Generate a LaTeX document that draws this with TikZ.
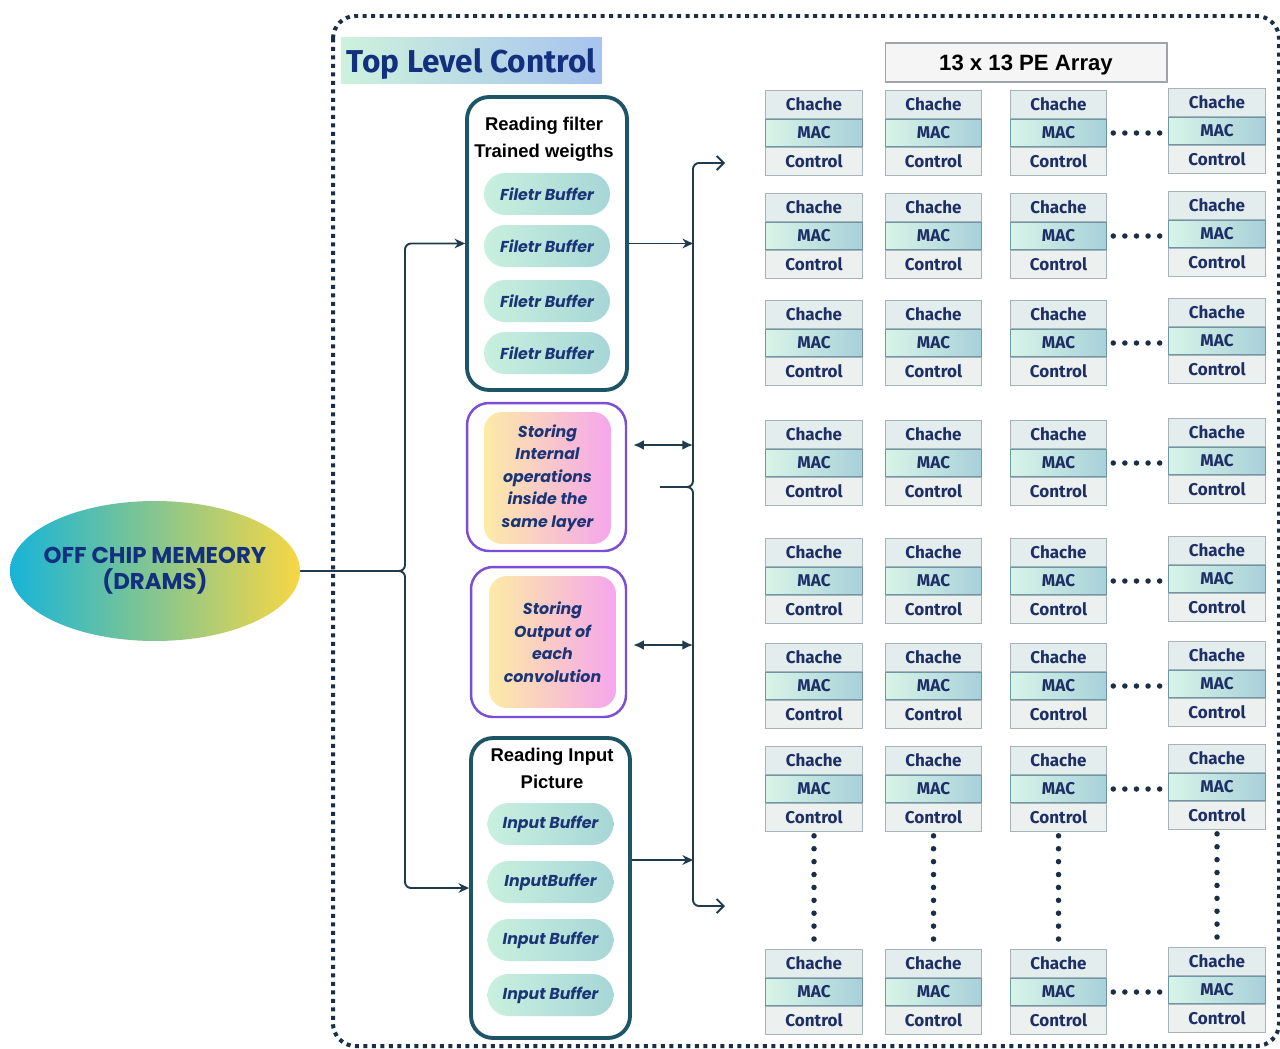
\documentclass[tikz,border=0pt]{standalone}
\usepackage{fontspec}
\setmainfont{Fira Sans}
\newfontfamily\popfont{Poppins}
\newfontfamily\arialfont{Liberation Sans}
\usetikzlibrary{calc}
\usetikzlibrary{positioning}
\usetikzlibrary{shapes.geometric}
\usetikzlibrary{arrows.meta}

\definecolor{linenavy}{HTML}{1F3B4D}
\definecolor{dotnavy}{HTML}{1A2E45}
\definecolor{groupteal}{HTML}{1D5566}
\definecolor{storepurple}{HTML}{7A4FD6}
\definecolor{titleblue}{HTML}{12307E}
\definecolor{bufblue}{HTML}{1B3577}
\definecolor{petext}{HTML}{1E2F66}
\definecolor{peline}{HTML}{A6B3B8}
\definecolor{macline}{HTML}{6E96A6}
\definecolor{cachefill}{HTML}{E3EDED}
\definecolor{ctrlfill}{HTML}{ECF0EF}
\definecolor{macleft}{HTML}{D8F4E7}
\definecolor{macright}{HTML}{A8D0DA}
\definecolor{pillleft}{HTML}{C9F0DF}
\definecolor{pillright}{HTML}{A6D6D6}
\definecolor{storeleft}{HTML}{FDEBA6}
\definecolor{storeright}{HTML}{F5A6EC}
\definecolor{memleft}{HTML}{17B4D8}
\definecolor{memmid}{HTML}{86CFA0}
\definecolor{memright}{HTML}{F7D745}
\definecolor{titleleft}{HTML}{CDF2DC}
\definecolor{titleright}{HTML}{A8C3EE}
\definecolor{arraygray}{HTML}{A0A4A8}

\tikzset{
  pebox/.style={draw=peline, line width=0.6pt, minimum width=1.93cm, minimum height=0.55cm,
    inner sep=0pt, text=petext, font=\fontsize{9.7}{11}\selectfont\bfseries},
  pecache/.style={pebox, fill=cachefill},
  pectrl/.style={pebox, fill=ctrlfill},
  pemac/.style={pebox, draw=macline, left color=macleft, right color=macright},
  pill/.style={rounded corners=0.42cm, minimum width=2.52cm, minimum height=0.84cm, inner sep=0pt,
    left color=pillleft, right color=pillright, text=bufblue,
    font=\popfont\fontsize{9}{11}\selectfont\bfseries\itshape},
  groupbox/.style={draw=groupteal, line width=2.2pt, rounded corners=0.44cm, fill=white},
  grouphead/.style={align=center, text=black, font=\arialfont\bfseries\fontsize{10.5}{15.3}\selectfont},
  storeout/.style={draw=storepurple, line width=1.4pt, rounded corners=0.44cm, fill=white},
  storein/.style={rounded corners=0.36cm, minimum width=2.54cm, minimum height=2.64cm, inner sep=0pt,
    left color=storeleft, right color=storeright, align=center, text=bufblue,
    font=\popfont\fontsize{9}{12.8}\selectfont\bfseries\itshape},
  memory/.style={ellipse, minimum width=5.8cm, minimum height=2.8cm, inner sep=0pt,
    left color=memleft, middle color=memmid, right color=memright},
  memtext/.style={align=center, text=titleblue, font=\popfont\bfseries\fontsize{13}{15}\selectfont},
  titlebox/.style={minimum width=5.22cm, minimum height=0.94cm, inner sep=0pt, text depth=0pt,
    left color=titleleft, right color=titleright, text=titleblue,
    font=\bfseries\fontsize{18}{20}\selectfont},
  arraybox/.style={draw=arraygray, line width=0.6pt, fill=black!4, minimum width=5.64cm,
    minimum height=0.78cm, inner sep=0pt, text depth=0pt,
    font=\arialfont\bfseries\fontsize{12.6}{15}\selectfont},
  outerframe/.style={draw=dotnavy, line width=0.08cm, dash pattern=on 0.08cm off 0.09cm,
    rounded corners=0.45cm},
  conn/.style={draw=linenavy, line width=1.1pt, rounded corners=0.12cm},
  arr/.style={-{Stealth[length=6pt,width=5.5pt]}},
  dblarr/.style={{Latex[length=6pt,width=5.5pt]}-{Latex[length=6pt,width=5.5pt]}},
  outarr/.style={-{Straight Barb[length=4pt,width=8pt]}},
  hdots/.style={draw=dotnavy, line width=0.11cm, line cap=round, dash pattern=on 0pt off 0.232cm,
    shorten <=0.12cm, shorten >=0.17cm},
  vdots/.style={draw=dotnavy, line width=0.11cm, line cap=round, dash pattern=on 0pt off 0.258cm,
    shorten <=0.08cm, shorten >=0.18cm}
}

\newcommand{\pecell}[3]{%
  \node[pemac] (#1m) at (#2,#3) {MAC};
  \node[pecache, above=0pt of #1m] (#1c) {Chache};
  \node[pectrl, below=0pt of #1m] (#1k) {Control};
}

\begin{document}
\begin{tikzpicture}[x=0.02cm, y=-0.02cm]
  \useasboundingbox (0,0) rectangle (1280,1048);
  \fill[white] (0,0) rectangle (1280,1048);

  % Top level frame and title
  \draw[outerframe] (333,16) rectangle (1279,1046);
  \node[titlebox] (title) at (471.5,60.5) {Top Level Control};

  % Off chip memory
  \node[memory] (mem) at (155,571) {};
  \node[memtext] (memlabel) at (mem.center) {OFF CHIP MEMEORY\\(DRAMS)};

  % Filter buffers
  \node[groupbox, minimum width=3.2cm, minimum height=5.86cm] (fgroup) at (547,243.5) {};
  \node[grouphead] (fhead) at (544,139.5) {Reading filter\\Trained weigths};
  \node[pill] (fbuf1) at (547,194) {Filetr Buffer};
  \node[pill] (fbuf2) at (547,246) {Filetr Buffer};
  \node[pill] (fbuf3) at (547,301) {Filetr Buffer};
  \node[pill] (fbuf4) at (547,353) {Filetr Buffer};

  % Storing blocks
  \node[storeout, minimum width=3.18cm, minimum height=2.96cm] (st1) at (546.5,477) {};
  \node[storein] (st1in) at (547.5,478) {Storing\\Internal\\operations\\inside the\\same layer};
  \node[storeout, minimum width=3.1cm, minimum height=3cm] (st2) at (548.5,642) {};
  \node[storein] (st2in) at (552.5,642) {Storing\\Output of\\each\\convolution};

  % Input buffers
  \node[groupbox, minimum width=3.18cm, minimum height=6cm] (igroup) at (550.5,888) {};
  \node[grouphead] (ihead) at (552,768) {Reading Input\\Picture};
  \node[pill] (ibuf1) at (550.5,824) {Input Buffer};
  \node[pill] (ibuf2) at (550.5,882) {InputBuffer};
  \node[pill] (ibuf3) at (550.5,940) {Input Buffer};
  \node[pill] (ibuf4) at (550.5,995) {Input Buffer};

  % PE array
  \node[arraybox] (pearray) at (1026,62.5) {13 x 13 PE Array};

  % Row 1
  \pecell{pe11}{814}{133}
  \pecell{pe12}{933.5}{133}
  \pecell{pe13}{1058.5}{133}
  \pecell{pe14}{1217}{131}
  % Row 2
  \pecell{pe21}{814}{236}
  \pecell{pe22}{933.5}{236}
  \pecell{pe23}{1058.5}{236}
  \pecell{pe24}{1217}{234}
  % Row 3
  \pecell{pe31}{814}{343}
  \pecell{pe32}{933.5}{343}
  \pecell{pe33}{1058.5}{343}
  \pecell{pe34}{1217}{341}
  % Row 4
  \pecell{pe41}{814}{463}
  \pecell{pe42}{933.5}{463}
  \pecell{pe43}{1058.5}{463}
  \pecell{pe44}{1217}{461}
  % Row 5
  \pecell{pe51}{814}{581}
  \pecell{pe52}{933.5}{581}
  \pecell{pe53}{1058.5}{581}
  \pecell{pe54}{1217}{579}
  % Row 6
  \pecell{pe61}{814}{686}
  \pecell{pe62}{933.5}{686}
  \pecell{pe63}{1058.5}{686}
  \pecell{pe64}{1217}{684}
  % Row 7
  \pecell{pe71}{814}{789}
  \pecell{pe72}{933.5}{789}
  \pecell{pe73}{1058.5}{789}
  \pecell{pe74}{1217}{787}
  % Row 8
  \pecell{pe81}{814}{992}
  \pecell{pe82}{933.5}{992}
  \pecell{pe83}{1058.5}{992}
  \pecell{pe84}{1217}{990}

  % Dots between columns
  \draw[hdots] (pe13m.east) -- (pe13m.east -| pe14m.west);
  \draw[hdots] (pe23m.east) -- (pe23m.east -| pe24m.west);
  \draw[hdots] (pe33m.east) -- (pe33m.east -| pe34m.west);
  \draw[hdots] (pe43m.east) -- (pe43m.east -| pe44m.west);
  \draw[hdots] (pe53m.east) -- (pe53m.east -| pe54m.west);
  \draw[hdots] (pe63m.east) -- (pe63m.east -| pe64m.west);
  \draw[hdots] (pe73m.east) -- (pe73m.east -| pe74m.west);
  \draw[hdots] (pe83m.east) -- (pe83m.east -| pe84m.west);

  % Dots between rows
  \draw[vdots] (pe71k.south) -- (pe81c.north);
  \draw[vdots] (pe72k.south) -- (pe82c.north);
  \draw[vdots] (pe73k.south) -- (pe83c.north);
  \draw[vdots] (pe74k.south) -- (pe84c.north);

  % Memory to buffers
  \coordinate (split) at (405,571);
  \draw[conn, arr] (mem.east) -- (split) |- (fgroup.west);
  \draw[conn, arr] (mem.east) -- (split) |- (igroup.west);

  % Buffers to PE array
  \coordinate (bus) at (693,487);
  \coordinate (stub) at (660,487);
  \coordinate (outtop) at (725,163);
  \coordinate (outbot) at (725,906);
  \draw[conn, outarr] (stub) -- (bus) |- (outtop);
  \draw[conn, outarr] (stub) -- (bus) |- (outbot);
  \draw[conn, arr] (fgroup.east) -- (fgroup.east -| bus);
  \draw[conn, arr] (igroup.east) ++(0,-28) coordinate (iout) -- (iout -| bus);
  \draw[conn, dblarr] (st1.east) ++(6,-32) coordinate (s1out) -- (s1out -| bus);
  \draw[conn, dblarr] (st2.east) ++(6,3) coordinate (s2out) -- (s2out -| bus);
\end{tikzpicture}
\end{document}
